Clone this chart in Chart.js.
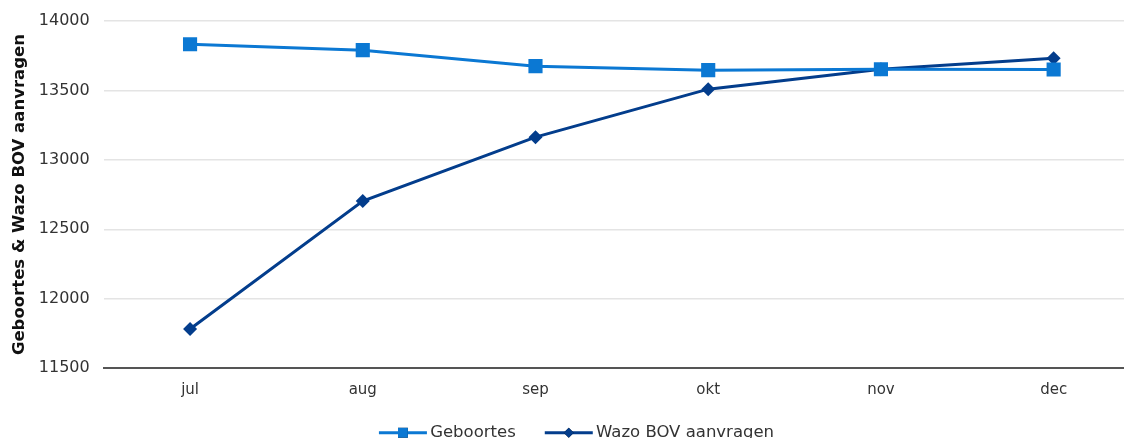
<!DOCTYPE html>
<html lang="nl">
  <head>
    <meta charset="UTF-8" />
    <title>Geboortes & Wazo BOV aanvragen</title>
    <style>
      * {
        margin: 0;
        padding: 0;
        box-sizing: border-box;
      }
      body {
        width: 1124px;
        height: 438px;
        overflow: hidden;
        background-color: #ffffff;
      }
      .wrap {
        width: 1150px;
        height: 451px;
      }
    </style>
  </head>
  <body>
    <div class="wrap">
      <canvas id="chart"></canvas>
    </div>

    <script src="https://cdn.jsdelivr.net/npm/chart.js"></script>
    <script>
      const months = ["jul", "aug", "sep", "okt", "nov", "dec"];
      const geboortes = [13834, 13791, 13676, 13647, 13654, 13652];
      const wazoBov = [11781, 12703, 13164, 13510, 13654, 13733];
      const yTicks = [11500, 12000, 12500, 13000, 13500, 14000];

      const lightBlue = "#0b78d3";
      const darkBlue = "#033d8c";
      const fontFamily = "'DejaVu Sans', Verdana, sans-serif";

      // legend: line with marker, drawn over the (invisible) legend box
      const LINE_START = 17;
      const LINE_LEN = 48;
      const legendLines = {
        id: "legendLines",
        afterUpdate(chart) {
          const legend = chart.legend;
          if (!legend || !legend.legendHitBoxes) return;
          // shift the legend a little to the left, keep hitbox tops as they are
          const tops = legend.legendHitBoxes.map((b) => b.top);
          legend.left -= 7;
          legend.right -= 7;
          legend.adjustHitBoxes();
          legend.legendHitBoxes.forEach((b, i) => (b.top = tops[i]));
        },
        afterDraw(chart) {
          const legend = chart.legend;
          if (!legend || !legend.legendHitBoxes) return;
          const ctx = chart.ctx;
          legend.legendHitBoxes.forEach((box, i) => {
            const ds = chart.data.datasets[i];
            const y = box.top + box.height / 2;
            const x0 = box.left + LINE_START;
            ctx.save();
            ctx.strokeStyle = ds.borderColor;
            ctx.lineWidth = 3;
            ctx.beginPath();
            ctx.moveTo(x0, y);
            ctx.lineTo(x0 + LINE_LEN, y);
            ctx.stroke();
            Chart.helpers.drawPoint(ctx, {
              pointStyle: ds.pointStyle,
              radius: ds.pointStyle === "rect" ? 7 : 5,
              borderWidth: 0,
              rotation: 0
            }, x0 + LINE_LEN / 2, y);
            ctx.fillStyle = ds.backgroundColor;
            ctx.fill();
            ctx.restore();
          });
        }
      };

      new Chart(document.getElementById("chart"), {
        type: "line",
        data: {
          labels: months,
          datasets: [
            {
              label: "Geboortes",
              data: geboortes,
              borderColor: lightBlue,
              backgroundColor: lightBlue,
              borderWidth: 3,
              pointStyle: "rect",
              pointRadius: 10,
              pointBorderWidth: 0,
              tension: 0
            },
            {
              label: "Wazo BOV aanvragen",
              data: wazoBov,
              borderColor: darkBlue,
              backgroundColor: darkBlue,
              borderWidth: 3,
              pointStyle: "rectRot",
              pointRadius: 7,
              pointBorderWidth: 0,
              tension: 0
            }
          ]
        },
        options: {
          responsive: true,
          maintainAspectRatio: false,
          animation: false,
          layout: {
            padding: { left: 0, right: 0, top: 0, bottom: 0 }
          },
          plugins: {
            tooltip: { enabled: false },
            legend: {
              position: "bottom",
              labels: {
                boxWidth: 60,
                boxHeight: 12,
                padding: 12,
                color: "#333333",
                font: { family: fontFamily, size: 16.5 },
                generateLabels(chart) {
                  const items = Chart.defaults.plugins.legend.labels.generateLabels(chart);
                  items.forEach((it) => {
                    it.fillStyle = "rgba(0,0,0,0)";
                    it.strokeStyle = "rgba(0,0,0,0)";
                    it.lineWidth = 0;
                  });
                  return items;
                }
              }
            }
          },
          scales: {
            x: {
              offset: true,
              grid: { display: false, drawTicks: false },
              border: { color: "#555555", width: 2 },
              ticks: {
                color: "#333333",
                padding: 14,
                font: { family: fontFamily, size: 15, lineHeight: 1.1 }
              }
            },
            y: {
              min: yTicks[0],
              max: yTicks[yTicks.length - 1],
              afterBuildTicks(axis) {
                axis.ticks = yTicks.map((v) => ({ value: v }));
              },
              grid: { color: "#e4e4e4", lineWidth: 1.5, drawTicks: false },
              border: { display: false },
              ticks: {
                color: "#333333",
                padding: 14,
                font: { family: fontFamily, size: 16, lineHeight: 0.9 },
                callback: (v) => String(v)
              },
              title: {
                display: true,
                text: "Geboortes & Wazo BOV aanvragen",
                color: "#111111",
                padding: { top: 10, bottom: -5 },
                font: { family: fontFamily, size: 16.5, weight: "bold" }
              }
            }
          }
        },
        plugins: [legendLines]
      });
    </script>
  </body>
</html>
